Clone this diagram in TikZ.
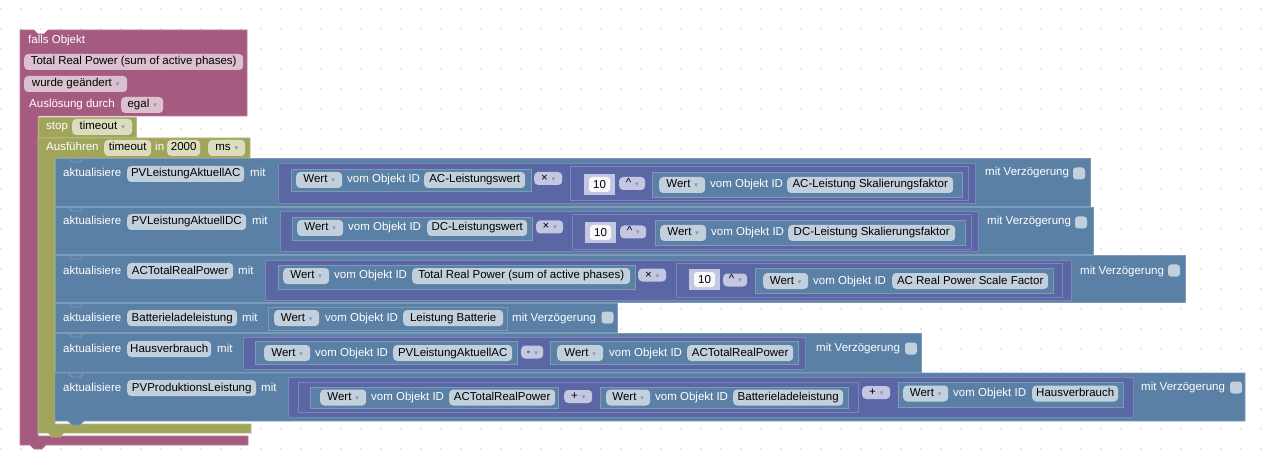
\documentclass[tikz,border=0pt]{standalone}
\usepackage{fontspec}
\setmainfont{Liberation Sans}
\newfontfamily\symfont{DejaVu Sans}
\definecolor{hatc}{HTML}{A55B80}
\definecolor{hatd}{HTML}{B87A99}
\definecolor{hatf}{HTML}{DDC0CF}
\definecolor{grnc}{HTML}{A0A55B}
\definecolor{grnd}{HTML}{B5B97D}
\definecolor{grnf}{HTML}{DCDDBF}
\definecolor{bluc}{HTML}{5B80A5}
\definecolor{blud}{HTML}{7D9AB8}
\definecolor{bluf}{HTML}{C2D0DE}
\definecolor{purc}{HTML}{5B67A5}
\definecolor{purd}{HTML}{7C86BA}
\definecolor{purf}{HTML}{C3C7E1}
\definecolor{ddc}{HTML}{8796A8}
\definecolor{dotc}{HTML}{D0D0D0}
\newcommand{\dd}{\hspace{4pt}{\symfont\fontsize{7}{7}\selectfont\color{ddc}▾}}
\newcommand{\fd}[5][bluf]{\node[fld,fill=#1,minimum width=#4pt] (#2) at (#3) {#5};}
\newcommand{\lb}[3]{\node[lbl] (#1) at (#2) {#3};}
\newcommand{\op}[4]{\node[opf,minimum width=#3pt] (#1) at (#2) {#4\dd};}
\newcommand{\num}[3]{\fill[purf] (#2) rectangle +(31,-21); \node[numf] (#1) at ($(#2)+(15.5,-10.5)$) {#3};}
\tikzset{
  lbl/.style={anchor=west,inner sep=0pt,text=white,text height=8.5pt,text depth=2.5pt},
  fld/.style={anchor=west,inner sep=0pt,rounded corners=4pt,minimum height=16pt,text=black,text height=8.5pt,text depth=2.5pt},
  opf/.style={fld,fill=purf,minimum height=13pt},
  numf/.style={inner sep=0pt,rounded corners=3pt,fill=white!88!purf,minimum width=21pt,minimum height=15pt,text=black},
  chk/.style={inner sep=0pt,rounded corners=3pt,fill=bluf,minimum size=12pt},
  hatblk/.style={fill=hatc,draw=hatd,line width=0.6pt},
  grnblk/.style={fill=grnc,draw=grnd,line width=0.6pt},
  blublk/.style={fill=bluc,draw=blud,line width=0.8pt},
  purblk/.style={fill=purc,draw=purd,line width=0.8pt},
}
\usetikzlibrary{calc}
\begin{document}
\begin{tikzpicture}[x=1pt,y=-1pt,font=\fontsize{11.5}{13}\selectfont]
\useasboundingbox (0,0) rectangle (1276,462);
% grid dots
\foreach \x in {1,21,...,1261} \foreach \y in {9,29,...,449} \fill[dotc] (\x,\y) circle (0.9pt);
% hat block
\filldraw[hatblk] (20,30) -- (34,30) -- (38,34) -- (44,34) -- (48,30) -- (247,30) -- (247,116) -- (38,116) -- (38,436) -- (248,436) -- (248,445) -- (46,445) -- (42,449) -- (34,449) -- (30,445) -- (20,445) -- cycle;
\lb{h1}{28,41}{falls Objekt}
\fd[hatf]{h2}{24,62}{219}{Total Real Power (sum of active phases)}
\fd[hatf]{h3}{24,84}{103}{wurde geändert\dd}
\lb{h4}{29,105}{Auslösung durch}
\fd[hatf]{h5}{121,105}{42}{egal\dd}
% timeout blocks
\filldraw[grnblk] (38,117) rectangle (136,137);
\lb{s1}{46,127}{stop}
\fd[grnf]{s2}{72,127}{60}{timeout\dd}
\filldraw[grnblk] (38,138) -- (250,138) -- (250,158) -- (55,158) -- (55,424) -- (251,424) -- (251,433) -- (64,433) -- (60,437) -- (52,437) -- (48,433) -- (38,433) -- cycle;
\lb{t1}{46,148}{Ausführen}
\fd[grnf]{t2}{104,148}{47}{timeout}
\lb{t3}{155,148}{in}
\fd[grnf]{t4}{167,148}{33}{2000}
\fd[grnf]{t5}{208,148}{37}{ms\dd}
% update blocks
\filldraw[blublk] (55,158) rectangle (1090,206);
\filldraw[blublk] (55,207) rectangle (1093,254);
\filldraw[blublk] (55,255) rectangle (1185,302);
\filldraw[blublk] (55,303) rectangle (617,332);
\filldraw[blublk] (55,333) rectangle (921,372);
\filldraw[blublk] (55,373) -- (1245,373) -- (1245,421) -- (84,421) -- (80,425) -- (72,425) -- (68,421) -- (55,421) -- cycle;
\foreach \y in {158,207,255,303,333,373} \draw[blud,line width=0.8pt] (68,\y) -- (72,\y+4) -- (80,\y+4) -- (84,\y);
% block 1
\lb{a1}{63,174}{aktualisiere}
\fd{a1v}{127,174}{117}{PVLeistungAktuellAC}
\lb{a1m}{250,174}{mit}
\filldraw[purblk] (278,163) rectangle (975,203);
\filldraw[blublk] (291,169) rectangle (531,191);
\fd{a1w}{296,180}{46}{Wert\dd}
\lb{a1o}{347,180}{vom Objekt ID}
\fd{a1i}{424,180}{101}{AC-Leistungswert}
\op{a1x}{534,178.5}{28}{×}
\filldraw[purblk] (570,166) rectangle (968,200);
\num{a1n}{584,195}{10}
\op{a1p}{619,183.5}{26}{\textasciicircum}
\filldraw[blublk] (652,172) rectangle (962,197);
\fd{a1w2}{659,185}{46}{Wert\dd}
\lb{a1o2}{710,185}{vom Objekt ID}
\fd{a1i2}{787,185}{166}{AC-Leistung Skalierungsfaktor}
\lb{a1d}{985,173}{mit Verzögerung}
\node[chk] (a1c) at (1079,173.5) {};
% block 2
\lb{a2}{63,222}{aktualisiere}
\fd{a2v}{127,222}{119}{PVLeistungAktuellDC}
\lb{a2m}{252,222}{mit}
\filldraw[purblk] (280,211) rectangle (978,251);
\filldraw[blublk] (292,217) rectangle (532,240);
\fd{a2w}{297,228}{46}{Wert\dd}
\lb{a2o}{348,228}{vom Objekt ID}
\fd{a2i}{427,228}{100}{DC-Leistungswert}
\op{a2x}{536,227}{27}{×}
\filldraw[purblk] (572,214) rectangle (971,249);
\num{a2n}{585,243}{10}
\op{a2p}{620,232}{26}{\textasciicircum}
\filldraw[blublk] (655,220) rectangle (965,245);
\fd{a2w2}{660,233}{46}{Wert\dd}
\lb{a2o2}{711,233}{vom Objekt ID}
\fd{a2i2}{788,233}{167}{DC-Leistung Skalierungsfaktor}
\lb{a2d}{987,222}{mit Verzögerung}
\node[chk] (a2c) at (1081,222.5) {};
% block 3
\lb{a3}{63,271}{aktualisiere}
\fd{a3v}{127,271}{106}{ACTotalRealPower}
\lb{a3m}{238,271}{mit}
\filldraw[purblk] (265,260) rectangle (1071,300);
\filldraw[blublk] (278,265) rectangle (635,289);
\fd{a3w}{283,276}{46}{Wert\dd}
\lb{a3o}{334,276}{vom Objekt ID}
\fd{a3i}{412,276}{218}{Total Real Power (sum of active phases)}
\op{a3x}{638,275}{28}{×}
\filldraw[purblk] (676,263) rectangle (1062,297);
\num{a3n}{689,290}{10}
\op{a3p}{723,280}{24}{\textasciicircum}
\filldraw[blublk] (755,268) rectangle (1053,293);
\fd{a3w2}{763,281}{45}{Wert\dd}
\lb{a3o2}{813,281}{vom Objekt ID}
\fd{a3i2}{892,281}{156}{AC Real Power Scale Factor}
\lb{a3d}{1080,271}{mit Verzögerung}
\node[chk] (a3c) at (1174,270.5) {};
% block 4
\lb{a4}{63,318}{aktualisiere}
\fd{a4v}{127,318}{110}{Batterieladeleistung}
\lb{a4m}{242,318}{mit}
\filldraw[blublk] (268,307) rectangle (507,330);
\fd{a4w}{274,318}{45}{Wert\dd}
\lb{a4o}{325,318}{vom Objekt ID}
\fd{a4i}{403,318}{100}{Leistung Batterie}
\lb{a4d}{512,318}{mit Verzögerung}
\node[chk] (a4c) at (607.5,317.5) {};
% block 5
\lb{a5}{63,349}{aktualisiere}
\fd{a5v}{127,349}{84}{Hausverbrauch}
\lb{a5m}{217,349}{mit}
\filldraw[purblk] (243,337) rectangle (805,369);
\filldraw[blublk] (255,341) rectangle (517,364);
\fd{a5w}{264,353}{46}{Wert\dd}
\lb{a5o}{315,353}{vom Objekt ID}
\fd{a5i}{393,353}{119}{PVLeistungAktuellAC}
\op{a5x}{521,352}{22}{{-}}
\filldraw[blublk] (550,341) rectangle (798,364);
\fd{a5w2}{557,353}{46}{Wert\dd}
\lb{a5o2}{609,353}{vom Objekt ID}
\fd{a5i2}{687,353}{106}{ACTotalRealPower}
\lb{a5d}{816,348}{mit Verzögerung}
\node[chk] (a5c) at (911,348.5) {};
% block 6
\lb{a6}{63,388}{aktualisiere}
\fd{a6v}{127,388}{129}{PVProduktionsLeistung}
\lb{a6m}{261,388}{mit}
\filldraw[purblk] (288,377) rectangle (1133,417);
\filldraw[purblk] (298,382) rectangle (858,412);
\filldraw[blublk] (310,387) rectangle (558,408);
\fd{a6w}{320,397.5}{46}{Wert\dd}
\lb{a6o}{371,397.5}{vom Objekt ID}
\fd{a6i}{449,397.5}{106}{ACTotalRealPower}
\op{a6x}{564,396.5}{28}{+}
\filldraw[blublk] (600,387) rectangle (848,408);
\fd{a6w2}{606,397.5}{44}{Wert\dd}
\lb{a6o2}{655,397.5}{vom Objekt ID}
\fd{a6i2}{733,397.5}{110}{Batterieladeleistung}
\op{a6y}{862,392.5}{28}{+}
\filldraw[blublk] (898,382) rectangle (1123,407);
\fd{a6w3}{903,393.5}{45}{Wert\dd}
\lb{a6o3}{953,393.5}{vom Objekt ID}
\fd{a6i3}{1032,393.5}{86}{Hausverbrauch}
\lb{a6d}{1141,387}{mit Verzögerung}
\node[chk] (a6c) at (1236,387.5) {};
\end{tikzpicture}
\end{document}
